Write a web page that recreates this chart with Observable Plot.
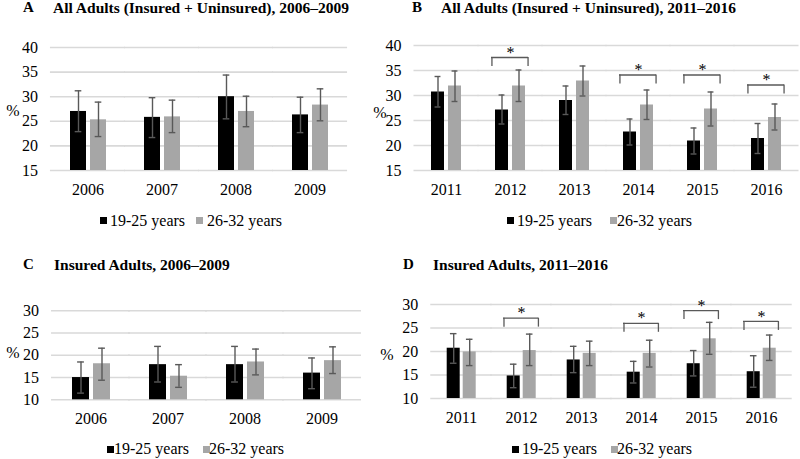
<!DOCTYPE html>
<html><head><meta charset="utf-8">
<script src="https://cdn.jsdelivr.net/npm/d3@7"></script>
<script src="https://cdn.jsdelivr.net/npm/@observablehq/plot@0.6"></script>
<style>
body{margin:0;background:#fff;}
#root{position:relative;width:800px;height:459px;overflow:hidden;font-family:"Liberation Serif","Times New Roman",serif;color:#000;background:#fff;}
.t{position:absolute;white-space:nowrap;line-height:1;}
.sw{position:absolute;width:7px;height:7px;}
.pl{position:absolute;}
</style></head><body><div id="root"></div>
<script>
// ---------- data ----------
const groups = ["19-25 years", "26-32 years"];
const groupColors = ["#000000", "#a6a6a6"];

const yearsEarly = [2006, 2007, 2008, 2009];
const yearsLate = [2011, 2012, 2013, 2014, 2015, 2016];

// Panel A: All adults 2006-2009
const aYoung = [27.0, 25.8, 30.0, 26.3];
const aYoungLo = [22.9, 21.7, 25.5, 22.7];
const aYoungHi = [31.2, 29.8, 34.4, 29.9];
const aOld = [25.3, 25.9, 27.0, 28.3];
const aOldLo = [21.9, 22.7, 23.9, 25.1];
const aOldHi = [28.9, 29.3, 30.1, 31.6];

// Panel B: All adults 2011-2016
const bYoung = [30.7, 27.1, 29.0, 22.7, 20.9, 21.4];
const bYoungLo = [27.7, 24.3, 26.2, 20.1, 18.3, 18.4];
const bYoungHi = [33.8, 30.1, 31.9, 25.3, 23.5, 24.4];
const bOld = [31.9, 31.9, 32.9, 28.1, 27.3, 25.6];
const bOldLo = [28.8, 28.8, 29.9, 25.2, 23.9, 23.1];
const bOldHi = [34.9, 35.1, 35.9, 31.1, 30.7, 28.3];
const bSigYears = [2012, 2014, 2015, 2016];
const bSigLevel = [37.6, 34.1, 34.1, 32.1];

// Panel C: Insured adults 2006-2009
const cYoung = [15.0, 17.9, 17.9, 16.0];
const cYoungLo = [11.5, 14.0, 14.0, 12.5];
const cYoungHi = [18.5, 22.0, 22.0, 19.4];
const cOld = [18.1, 15.3, 18.5, 18.8];
const cOldLo = [14.4, 12.8, 15.6, 15.9];
const cOldHi = [21.6, 17.9, 21.4, 21.9];

// Panel D: Insured adults 2011-2016
const dYoung = [20.7, 14.8, 18.2, 15.6, 17.4, 15.7];
const dYoungLo = [17.5, 12.3, 15.5, 13.3, 14.8, 12.4];
const dYoungHi = [23.8, 17.3, 21.1, 17.9, 20.2, 19.1];
const dOld = [19.9, 20.2, 19.6, 19.6, 22.7, 20.7];
const dOldLo = [17.0, 17.0, 17.0, 16.7, 19.4, 18.1];
const dOldHi = [22.6, 23.7, 22.2, 22.4, 26.2, 23.5];
const dSigYears = [2012, 2014, 2015, 2016];
const dSigLevel = [27.1, 26.0, 28.7, 26.4];

const ticksAll = [15, 20, 25, 30, 35, 40];
const ticksInsured = [10, 15, 20, 25, 30];

const titles = {
  A: "All Adults (Insured + Uninsured), 2006–2009",
  B: "All Adults (Insured + Uninsured), 2011–2016",
  C: "Insured Adults, 2006–2009",
  D: "Insured Adults, 2011–2016"
};

// ---------- layout (styling only) ----------
const panels = [
  {letter: "A", years: yearsEarly, young: aYoung, youngLo: aYoungLo, youngHi: aYoungHi, old: aOld, oldLo: aOldLo, oldHi: aOldHi,
   sigYears: [], sigLevel: [], yTicks: ticksAll,
   box: {left: 0, top: 30, width: 360, height: 180, ml: 50, mr: 13, mt: 17, mb: 40},
   letterX: 23, titleX: 53, titleBase: 13, pct: [13, 111], legend: {y: 220, base: 226, sq: [100, 196], tx: [110, 207]}},
  {letter: "B", years: yearsLate, young: bYoung, youngLo: bYoungLo, youngHi: bYoungHi, old: bOld, oldLo: bOldLo, oldHi: bOldHi,
   sigYears: bSigYears, sigLevel: bSigLevel, yTicks: ticksAll,
   box: {left: 380, top: 30, width: 420, height: 180, ml: 34, mr: 2, mt: 15, mb: 40},
   letterX: 412, titleX: 441, titleBase: 13, pct: [380, 113], legend: {y: 220, base: 226, sq: [507, 610], tx: [517, 617]}},
  {letter: "C", years: yearsEarly, young: cYoung, youngLo: cYoungLo, youngHi: cYoungHi, old: cOld, oldLo: cOldLo, oldHi: cOldHi,
   sigYears: [], sigLevel: [], yTicks: ticksInsured,
   box: {left: 0, top: 290, width: 380, height: 150, ml: 50, mr: 18.5, mt: 20.3, mb: 40.7},
   letterX: 23, titleX: 54, titleBase: 270, pct: [13, 353], legend: {y: 449, base: 454, sq: [107, 203], tx: [114, 209]}},
  {letter: "D", years: yearsLate, young: dYoung, youngLo: dYoungLo, youngHi: dYoungHi, old: dOld, oldLo: dOldLo, oldHi: dOldHi,
   sigYears: dSigYears, sigLevel: dSigLevel, yTicks: ticksInsured,
   box: {left: 380, top: 290, width: 420, height: 150, ml: 48.3, mr: 6.5, mt: 14, mb: 42},
   letterX: 403, titleX: 433, titleBase: 270, pct: [387, 355], legend: {y: 449, base: 454, sq: [512, 611], tx: [522, 617]}}
];

const root = document.getElementById("root");
const FONT = '"Liberation Serif","Times New Roman",serif';

function placeText(str, x, base, size, opts = {}) {
  const d = document.createElement("div");
  d.className = "t";
  d.textContent = str;
  d.style.fontSize = size + "px";
  d.style.left = x + "px";
  d.style.top = (base - 0.8375 * size) + "px";
  if (opts.bold) d.style.fontWeight = "bold";
  if (opts.center) d.style.transform = "translateX(-50%)";
  root.appendChild(d);
  return d;
}

const gridColor = "#d9d9d9";
const errColor = "#595959";
const xPad = 0.21;

for (const p of panels) {
  const rows = p.years.flatMap((yr, i) => [
    {year: yr, group: groups[0], v: p.young[i], lo: p.youngLo[i], hi: p.youngHi[i]},
    {year: yr, group: groups[1], v: p.old[i], lo: p.oldLo[i], hi: p.oldHi[i]}
  ]);
  const sig = p.sigYears.map((yr, i) => ({year: yr, y: p.sigLevel[i]}));
  const grid = p.years.flatMap(yr => p.yTicks.map(t => ({year: yr, t})));
  const tickLabels = p.yTicks.map(t => ({year: p.years[0], t}));
  const yDomain = [p.yTicks[0], p.yTicks[p.yTicks.length - 1]];
  const B = p.box;
  const W = B.width - B.ml - B.mr;
  const H = B.height - B.mt - B.mb;
  const step = W / p.years.length;
  const outer = step * 0.25;
  const groupW = step * 0.5;
  const barStep = groupW / (2 - xPad);
  const barW = barStep * (1 - xPad);
  const capInset = Math.max(0, (barW - 7) / 2);
  const tickLen = 9 / (H / (yDomain[1] - yDomain[0]));

  const svg = Plot.plot({
    width: B.width, height: B.height,
    marginLeft: B.ml, marginRight: B.mr, marginTop: B.mt, marginBottom: B.mb,
    style: {fontFamily: FONT, fontSize: "16px", color: "#000", background: "transparent", overflow: "visible"},
    fx: {domain: p.years, paddingInner: 0.5, paddingOuter: 0.25, label: null, tickSize: 0, tickPadding: 13, axis: "bottom", tickFormat: d => String(d)},
    x: {domain: groups, paddingInner: xPad, paddingOuter: 0, axis: null},
    y: {domain: yDomain, axis: null},
    color: {domain: groups, range: groupColors},
    marks: [
      Plot.ruleY(grid, {fx: "year", y: "t", stroke: gridColor, strokeWidth: 1.6, insetLeft: -outer - 0.5, insetRight: -outer - 0.5}),
      Plot.text(tickLabels, {fx: "year", y: "t", text: d => String(d.t), frameAnchor: "left", textAnchor: "end", dx: -13 - outer, fontSize: 16}),
      Plot.barY(rows, {fx: "year", x: "group", y1: () => yDomain[0], y2: "v", fill: "group"}),
      Plot.ruleX(rows, {fx: "year", x: "group", y1: "lo", y2: "hi", stroke: errColor, strokeWidth: 1.4}),
      Plot.tickY(rows, {fx: "year", x: "group", y: "lo", stroke: errColor, strokeWidth: 1.4, insetLeft: capInset, insetRight: capInset}),
      Plot.tickY(rows, {fx: "year", x: "group", y: "hi", stroke: errColor, strokeWidth: 1.4, insetLeft: capInset, insetRight: capInset}),
      Plot.ruleY(sig, {fx: "year", y: "y", stroke: errColor, strokeWidth: 1.3, insetLeft: -3, insetRight: -2}),
      Plot.ruleX(sig, {fx: "year", x: () => groups[0], y1: "y", y2: d => d.y - tickLen, dx: -barW / 2 - 3, stroke: errColor, strokeWidth: 1.3}),
      Plot.ruleX(sig, {fx: "year", x: () => groups[1], y1: "y", y2: d => d.y - tickLen, dx: barW / 2 + 2, stroke: errColor, strokeWidth: 1.3}),
      Plot.text(sig, {fx: "year", y: "y", text: () => "*", fontSize: 16, lineAnchor: "middle", dy: -5})
    ]
  });
  const wrap = document.createElement("div");
  wrap.className = "pl";
  wrap.style.left = B.left + "px";
  wrap.style.top = B.top + "px";
  wrap.appendChild(svg);
  root.appendChild(wrap);

  // title
  placeText(p.letter, p.letterX, p.titleBase, 15, {bold: true});
  placeText(titles[p.letter], p.titleX, p.titleBase, 15.5, {bold: true});
  // y label
  placeText("%", p.pct[0], p.pct[1] + 5, 16, {center: true});
  // legend
  groups.forEach((g, i) => {
    const s = document.createElement("div");
    s.className = "sw";
    s.style.background = groupColors[i];
    s.style.left = p.legend.sq[i] + "px";
    s.style.top = (p.legend.y - 3.5) + "px";
    root.appendChild(s);
    placeText(g, p.legend.tx[i], p.legend.base, 16);
  });
}
</script>
</body></html>
